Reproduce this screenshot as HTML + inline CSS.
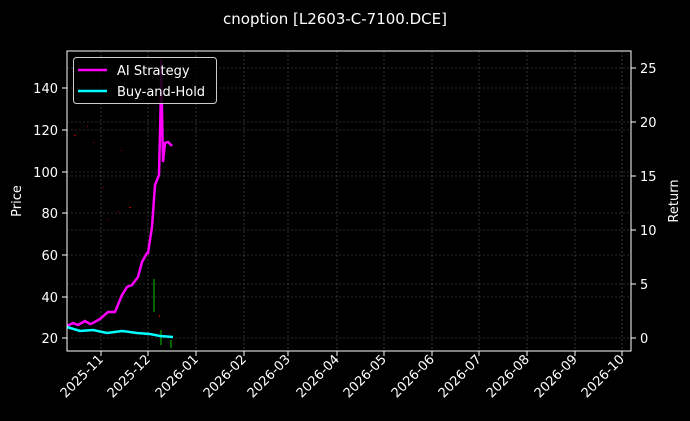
<!DOCTYPE html><html><head><style>body{margin:0;background:#000}svg{display:block}text{font-family:"DejaVu Sans","Liberation Sans",sans-serif;fill:#fff}</style></head><body>
<svg width="690" height="421" xmlns="http://www.w3.org/2000/svg">
<rect width="690" height="421" fill="#000"/>
<text x="335" y="24" font-size="15" text-anchor="middle">cnoption [L2603-C-7100.DCE]</text>
<g stroke="#555" stroke-dasharray="2,2" stroke-width="0.6">
<line x1="67" x2="631" y1="88" y2="88"/><line x1="67" x2="631" y1="130" y2="130"/><line x1="67" x2="631" y1="172" y2="172"/><line x1="67" x2="631" y1="213" y2="213"/><line x1="67" x2="631" y1="255" y2="255"/><line x1="67" x2="631" y1="297" y2="297"/><line x1="67" x2="631" y1="338" y2="338"/>
<line x1="67" x2="631" y1="68" y2="68"/><line x1="67" x2="631" y1="122" y2="122"/><line x1="67" x2="631" y1="176" y2="176"/><line x1="67" x2="631" y1="230" y2="230"/><line x1="67" x2="631" y1="284" y2="284"/>
<line x1="101" x2="101" y1="51" y2="351"/><line x1="148" x2="148" y1="51" y2="351"/><line x1="196" x2="196" y1="51" y2="351"/><line x1="244" x2="244" y1="51" y2="351"/><line x1="288" x2="288" y1="51" y2="351"/><line x1="337" x2="337" y1="51" y2="351"/><line x1="384" x2="384" y1="51" y2="351"/><line x1="432" x2="432" y1="51" y2="351"/><line x1="479" x2="479" y1="51" y2="351"/><line x1="527" x2="527" y1="51" y2="351"/><line x1="575" x2="575" y1="51" y2="351"/><line x1="622" x2="622" y1="51" y2="351"/>
</g>
<g fill="#a00"><rect x="74" y="135" width="2" height="1"/><rect x="87" y="126" width="1" height="1"/><rect x="93" y="142" width="1" height="1"/><rect x="103" y="187" width="1" height="1"/><rect x="107" y="219" width="1" height="1"/><rect x="118" y="211" width="1" height="1"/><rect x="121" y="150" width="1" height="1"/><rect x="129" y="207" width="2" height="1"/><rect x="159" y="315" width="1" height="2"/></g>
<g stroke="#0c0" stroke-width="1"><line x1="154" x2="154" y1="279" y2="312"/><line x1="161" x2="161" y1="330" y2="345"/><line x1="171" x2="171" y1="340" y2="348"/></g>
<polyline fill="none" stroke="#f0f" stroke-width="2.5" points="67,326 73,323 78,325 85,321 90,324 93,323 100,319 108,312 115,312 122,295 127,287 132,285 138,277 142,262 147,253 148,253 152,227 155,185 159,175 161,90 161,60 163,162 165,143 168,142 172,146"/>
<polyline fill="none" stroke="#0ff" stroke-width="2.5" points="67,327 80,331 93,330 107,333 122,331 137,333 150,334 160,336 173,337"/>
<rect x="67" y="51" width="564" height="300" fill="none" stroke="#fff" stroke-width="1"/>
<g stroke="#fff"><line x1="62" x2="67" y1="88" y2="88"/><line x1="62" x2="67" y1="130" y2="130"/><line x1="62" x2="67" y1="172" y2="172"/><line x1="62" x2="67" y1="213" y2="213"/><line x1="62" x2="67" y1="255" y2="255"/><line x1="62" x2="67" y1="297" y2="297"/><line x1="62" x2="67" y1="338" y2="338"/>
<line x1="631" x2="636" y1="68" y2="68"/><line x1="631" x2="636" y1="122" y2="122"/><line x1="631" x2="636" y1="176" y2="176"/><line x1="631" x2="636" y1="230" y2="230"/><line x1="631" x2="636" y1="284" y2="284"/><line x1="631" x2="636" y1="338" y2="338"/></g>
<g font-size="13" text-anchor="end"><text x="58" y="93">140</text><text x="58" y="135">120</text><text x="58" y="177">100</text><text x="58" y="218">80</text><text x="58" y="260">60</text><text x="58" y="302">40</text><text x="58" y="343">20</text></g>
<g font-size="13"><text x="640" y="73">25</text><text x="640" y="127">20</text><text x="640" y="181">15</text><text x="640" y="235">10</text><text x="640" y="289">5</text><text x="640" y="343">0</text></g>
<text font-size="13" transform="translate(21,201) rotate(-90)" text-anchor="middle">Price</text>
<text font-size="13" transform="translate(678,201) rotate(-90)" text-anchor="middle">Return</text>
<g font-size="13" text-anchor="end">
<text transform="translate(104,360) rotate(-45)">2025-11</text><text transform="translate(151,360) rotate(-45)">2025-12</text><text transform="translate(199,360) rotate(-45)">2026-01</text><text transform="translate(247,360) rotate(-45)">2026-02</text><text transform="translate(291,360) rotate(-45)">2026-03</text><text transform="translate(340,360) rotate(-45)">2026-04</text><text transform="translate(387,360) rotate(-45)">2026-05</text><text transform="translate(435,360) rotate(-45)">2026-06</text><text transform="translate(482,360) rotate(-45)">2026-07</text><text transform="translate(530,360) rotate(-45)">2026-08</text><text transform="translate(578,360) rotate(-45)">2026-09</text><text transform="translate(625,360) rotate(-45)">2026-10</text></g>
<g stroke="#fff"><line x1="101" x2="101" y1="351" y2="356"/><line x1="148" x2="148" y1="351" y2="356"/><line x1="196" x2="196" y1="351" y2="356"/><line x1="244" x2="244" y1="351" y2="356"/><line x1="288" x2="288" y1="351" y2="356"/><line x1="337" x2="337" y1="351" y2="356"/><line x1="384" x2="384" y1="351" y2="356"/><line x1="432" x2="432" y1="351" y2="356"/><line x1="479" x2="479" y1="351" y2="356"/><line x1="527" x2="527" y1="351" y2="356"/><line x1="575" x2="575" y1="351" y2="356"/><line x1="622" x2="622" y1="351" y2="356"/></g>
<rect x="73.5" y="57.5" width="143" height="46" rx="3" fill="#000" fill-opacity="0.85" stroke="#ccc"/>
<line x1="78" x2="107" y1="70" y2="70" stroke="#f0f" stroke-width="2.5"/>
<line x1="78" x2="107" y1="91" y2="91" stroke="#0ff" stroke-width="2.5"/>
<text x="117" y="75" font-size="13">AI Strategy</text>
<text x="117" y="96" font-size="13">Buy-and-Hold</text>
</svg></body></html>
